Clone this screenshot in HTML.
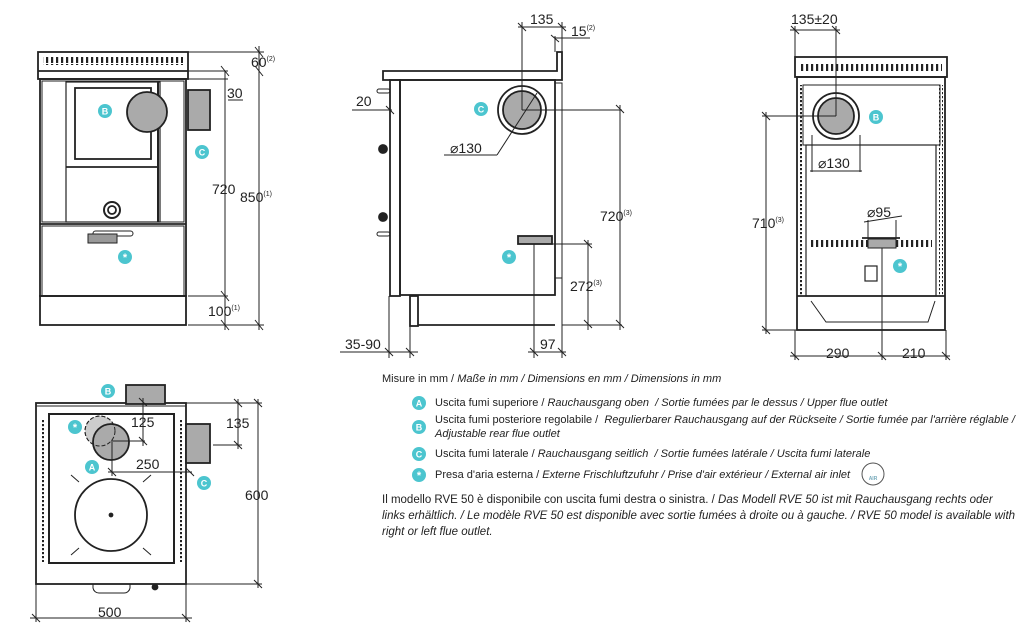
<!DOCTYPE html>
<html><head><meta charset="utf-8"><style>
body{margin:0;background:#fff;width:1033px;height:642px;overflow:hidden;font-family:"Liberation Sans",sans-serif}
svg{position:absolute;left:0;top:0}
.t{position:absolute;font-size:11px;color:#222;white-space:nowrap;line-height:14px}
i{font-style:italic}
</style></head><body>
<svg width="1033" height="642" viewBox="0 0 1033 642" font-family="Liberation Sans" fill="none" stroke="#222">
<defs>
<pattern id="v" width="5" height="8" patternUnits="userSpaceOnUse"><rect x="1" y="0" width="2.2" height="7" fill="#222" stroke="none"/></pattern>
<pattern id="vv" width="6" height="4" patternUnits="userSpaceOnUse"><rect x="0" y="0" width="4" height="2.2" fill="#222" stroke="none"/></pattern>
</defs>
<!-- FRONT VIEW -->
<g stroke-width="1.8">
<rect x="38" y="52" width="150" height="27"/>
<rect x="43" y="57" width="140" height="8" fill="url(#v)" stroke="none"/>
<line x1="38" y1="71" x2="188" y2="71"/>
<rect x="40" y="79" width="146" height="217"/>
<rect x="42" y="81" width="142" height="141" stroke-width="1"/>
<rect x="66" y="82" width="94" height="140" stroke-width="1.2"/>
<rect x="75" y="88" width="76" height="71" stroke-width="1.8"/>
<line x1="66" y1="167" x2="158" y2="167"/>
<line x1="158" y1="82" x2="158" y2="222" stroke-width="2"/>
<circle cx="147" cy="112" r="20" fill="#aaa"/>
<circle cx="112" cy="210" r="8" stroke-width="2"/><circle cx="112" cy="210" r="4"/>
<line x1="40" y1="224" x2="186" y2="224"/>
<rect x="42" y="226" width="142" height="70" stroke-width="1"/>
<rect x="93" y="231" width="40" height="5" rx="2.5" stroke-width="1"/>
<rect x="88" y="234" width="29" height="9" fill="#999" stroke-width="1"/>
<rect x="40" y="296" width="146" height="29"/>
<rect x="188" y="90" width="22" height="40" fill="#aaa"/>
</g>
<g stroke-width="1">
<line x1="188" y1="52" x2="264" y2="52"/><line x1="188" y1="71" x2="228" y2="71"/>
<line x1="188" y1="79" x2="228" y2="79"/><line x1="188" y1="296" x2="228" y2="296"/>
<line x1="188" y1="325" x2="264" y2="325"/>
<line x1="225" y1="71" x2="225" y2="330"/><line x1="259" y1="46" x2="259" y2="330"/>
<line x1="228" y1="100" x2="243" y2="100"/>
<path d="M221 66l8 10M255 47l8 10M255 66l8 10M221 291l8 10M221 320l8 10M255 320l8 10"/>
</g>
<!-- SIDE VIEW -->
<g stroke-width="1.8">
<path d="M383 80V71H557V52H562V80Z"/>
<rect x="400" y="80" width="155" height="215"/>
<rect x="390" y="80" width="10" height="216"/>
<rect x="555" y="83" width="7" height="195" stroke-width="1"/>
<circle cx="522" cy="110" r="24"/><circle cx="522" cy="110" r="19" fill="#aaa"/>
<rect x="518" y="236" width="34" height="8" fill="#aaa"/>
<rect x="410" y="296" width="8" height="30"/>
<line x1="418" y1="325" x2="555" y2="325"/>
<rect x="377" y="89" width="13" height="4" rx="2" stroke-width="1"/>
<rect x="377" y="232" width="13" height="4" rx="2" stroke-width="1"/>
<circle cx="383" cy="149" r="4" fill="#222"/><circle cx="383" cy="217" r="4" fill="#222"/>
</g>
<g stroke-width="1">
<line x1="522" y1="22" x2="522" y2="110"/><line x1="522" y1="110" x2="622" y2="110"/>
<line x1="518" y1="27" x2="566" y2="27"/><line x1="555" y1="38" x2="590" y2="38"/>
<line x1="562" y1="22" x2="562" y2="52"/><line x1="555" y1="36" x2="555" y2="52"/>
<line x1="444" y1="155" x2="497" y2="155"/><line x1="497" y1="155" x2="537" y2="93"/>
<line x1="352" y1="110" x2="392" y2="110"/>
<line x1="552" y1="244" x2="592" y2="244"/><line x1="562" y1="325" x2="622" y2="325"/>
<line x1="620" y1="105" x2="620" y2="330"/><line x1="588" y1="240" x2="588" y2="330"/>
<line x1="389" y1="296" x2="389" y2="358"/><line x1="410" y1="326" x2="410" y2="358"/>
<line x1="534" y1="244" x2="534" y2="358"/><line x1="562" y1="278" x2="562" y2="358"/>
<line x1="340" y1="352" x2="418" y2="352"/><line x1="528" y1="352" x2="566" y2="352"/>
<path d="M518 23l8 8M558 23l8 8M551 35l8 7M386 106l8 8M616 105l8 8M616 320l8 8M584 240l8 8M584 320l8 8M385 348l8 8M406 348l8 8M530 348l8 8M558 348l8 8"/>
</g>
<!-- REAR VIEW -->
<g stroke-width="1.8">
<rect x="795" y="57" width="152" height="20"/>
<rect x="800" y="63" width="142" height="8" fill="url(#v)" stroke="none"/>
<rect x="797" y="77" width="148" height="253"/>
<rect x="803" y="85" width="137" height="60" stroke-width="1"/>
<rect x="806" y="145" width="130" height="151" stroke-width="1.2"/>
<rect x="800" y="85" width="4" height="210" fill="url(#vv)" stroke="none"/>
<rect x="939" y="85" width="4" height="210" fill="url(#vv)" stroke="none"/>
<circle cx="836" cy="116" r="23"/><circle cx="836" cy="116" r="18" fill="#aaa"/>
<rect x="810" y="240" width="122" height="8" fill="url(#v)" stroke="none"/>
<rect x="868" y="239" width="28" height="9" fill="#aaa" stroke-width="1"/>
<line x1="862" y1="238" x2="900" y2="238"/>
<rect x="865" y="266" width="12" height="15" stroke-width="1.2"/>
<line x1="797" y1="296" x2="945" y2="296"/>
<path d="M811 301L826 322H928L935 301" stroke-width="1"/>
</g>
<g stroke-width="1">
<line x1="795" y1="26" x2="795" y2="57"/><line x1="836" y1="26" x2="836" y2="116"/>
<line x1="790" y1="30" x2="840" y2="30"/><line x1="762" y1="116" x2="836" y2="116"/>
<line x1="766" y1="112" x2="766" y2="334"/><line x1="762" y1="330" x2="797" y2="330"/>
<line x1="812" y1="135" x2="812" y2="172"/><line x1="860" y1="135" x2="860" y2="172"/>
<line x1="810" y1="171" x2="862" y2="171"/>
<line x1="864" y1="222" x2="902" y2="216"/><line x1="868" y1="220" x2="868" y2="239"/><line x1="896" y1="220" x2="896" y2="239"/>
<line x1="882" y1="248" x2="882" y2="360"/>
<line x1="795" y1="330" x2="795" y2="360"/><line x1="946" y1="330" x2="946" y2="360"/>
<line x1="790" y1="356" x2="950" y2="356"/>
<path d="M791 26l8 8M832 26l8 8M762 112l8 8M762 326l8 8M791 352l8 8M878 352l8 8M942 352l8 8"/>
</g>
<!-- TOP VIEW -->
<g stroke-width="1.8">
<rect x="36" y="403" width="150" height="181"/>
<line x1="36" y1="406" x2="186" y2="406" stroke-width="1"/>
<rect x="49" y="414" width="125" height="149" stroke-width="2"/>
<rect x="40" y="420" width="4" height="142" fill="url(#vv)" stroke="none"/>
<rect x="178" y="420" width="4" height="142" fill="url(#vv)" stroke="none"/>
<rect x="126" y="385" width="39" height="19" fill="#aaa"/>
<rect x="186" y="424" width="24" height="39" fill="#aaa"/>
<circle cx="100" cy="431" r="15" fill="#ccc" stroke-dasharray="4 2" stroke-width="1"/>
<circle cx="111" cy="442" r="18" fill="#aaa"/>
<circle cx="100" cy="431" r="15" stroke-dasharray="4 2" stroke-width="1"/>
<circle cx="111" cy="515" r="36"/>
<circle cx="111" cy="515" r="1.5" fill="#222"/>
<path d="M79 482l-8-7M143 482l8-7M79 548l-8 7M143 548l8 7" stroke-width="1"/>
<path d="M93 584v4a6 6 0 0 0 6 5h25a6 6 0 0 0 6-5v-4" stroke-width="1"/>
<circle cx="155" cy="587" r="2.5" fill="#222"/>
</g>
<g stroke-width="1">
<line x1="143" y1="398" x2="143" y2="446"/>
<line x1="111" y1="441" x2="145" y2="441"/>
<line x1="112" y1="442" x2="112" y2="476"/>
<line x1="108" y1="472" x2="192" y2="472"/>
<line x1="186" y1="403" x2="262" y2="403"/><line x1="213" y1="445" x2="242" y2="445"/>
<line x1="238" y1="399" x2="238" y2="449"/><line x1="186" y1="584" x2="262" y2="584"/>
<line x1="258" y1="399" x2="258" y2="588"/>
<line x1="36" y1="584" x2="36" y2="622"/><line x1="186" y1="584" x2="186" y2="622"/>
<line x1="30" y1="618" x2="192" y2="618"/>
<path d="M139 398l8 8M139 437l8 8M108 468l8 8M186 468l8 8M234 399l8 8M234 441l8 8M254 399l8 8M254 580l8 8M32 614l8 8M182 614l8 8"/>
</g>
<!-- dimension text -->
<g fill="#222" stroke="none" font-size="14">
<text x="251" y="67">60<tspan font-size="7" dy="-6">(2)</tspan></text>
<text x="227" y="98">30</text>
<text x="212" y="194">720</text>
<text x="240" y="202">850<tspan font-size="7" dy="-6">(1)</tspan></text>
<text x="208" y="316">100<tspan font-size="7" dy="-6">(1)</tspan></text>
<text x="530" y="24">135</text>
<text x="571" y="36">15<tspan font-size="7" dy="-6">(2)</tspan></text>
<text x="356" y="106">20</text>
<text x="450" y="153">⌀130</text>
<text x="600" y="221">720<tspan font-size="7" dy="-6">(3)</tspan></text>
<text x="570" y="291">272<tspan font-size="7" dy="-6">(3)</tspan></text>
<text x="345" y="349">35-90</text>
<text x="540" y="349">97</text>
<text x="791" y="24">135±20</text>
<text x="818" y="168">⌀130</text>
<text x="867" y="217">⌀95</text>
<text x="752" y="228">710<tspan font-size="7" dy="-6">(3)</tspan></text>
<text x="826" y="358">290</text>
<text x="902" y="358">210</text>
<text x="131" y="427">125</text>
<text x="136" y="469">250</text>
<text x="226" y="428">135</text>
<text x="245" y="500">600</text>
<text x="98" y="617">500</text>
</g>
<!-- badges -->
<g stroke="none" font-size="9" font-weight="bold" text-anchor="middle">
<circle cx="105" cy="111" r="7" fill="#4cc5cf"/><text x="105" y="114.5" fill="#fff">B</text>
<circle cx="202" cy="152" r="7" fill="#4cc5cf"/><text x="202" y="155.5" fill="#fff">C</text>
<circle cx="125" cy="257" r="7" fill="#4cc5cf"/><text x="125" y="261" fill="#fff" font-size="11">*</text>
<circle cx="481" cy="109" r="7" fill="#4cc5cf"/><text x="481" y="112.5" fill="#fff">C</text>
<circle cx="509" cy="257" r="7" fill="#4cc5cf"/><text x="509" y="261" fill="#fff" font-size="11">*</text>
<circle cx="876" cy="117" r="7" fill="#4cc5cf"/><text x="876" y="120.5" fill="#fff">B</text>
<circle cx="900" cy="266" r="7" fill="#4cc5cf"/><text x="900" y="270" fill="#fff" font-size="11">*</text>
<circle cx="108" cy="391" r="7" fill="#4cc5cf"/><text x="108" y="394.5" fill="#fff">B</text>
<circle cx="75" cy="427" r="7" fill="#4cc5cf"/><text x="75" y="431" fill="#fff" font-size="11">*</text>
<circle cx="92" cy="467" r="7" fill="#4cc5cf"/><text x="92" y="470.5" fill="#fff">A</text>
<circle cx="204" cy="483" r="7" fill="#4cc5cf"/><text x="204" y="486.5" fill="#fff">C</text>
<circle cx="419" cy="403" r="7" fill="#4cc5cf"/><text x="419" y="406.5" fill="#fff">A</text>
<circle cx="419" cy="427" r="7" fill="#4cc5cf"/><text x="419" y="430.5" fill="#fff">B</text>
<circle cx="419" cy="454" r="7" fill="#4cc5cf"/><text x="419" y="457.5" fill="#fff">C</text>
<circle cx="419" cy="475" r="7" fill="#4cc5cf"/><text x="419" y="479" fill="#fff" font-size="11">*</text>
<circle cx="873" cy="474" r="11" fill="#fff" stroke="#555" stroke-width="1"/><text x="873" y="480" fill="#7ab" font-size="5">AIR</text>
</g>
</svg>
<div class="t" style="left:382px;top:372px">Misure in mm / <i>Maße in mm / Dimensions en mm / Dimensions in mm</i></div>
<div class="t" style="left:435px;top:396px">Uscita fumi superiore / <i>Rauchausgang oben &nbsp;/ Sortie fumées par le dessus / Upper flue outlet</i></div>
<div class="t" style="left:435px;top:413px">Uscita fumi posteriore regolabile / &nbsp;<i>Regulierbarer Rauchausgang auf der Rückseite / Sortie fumée par l'arrière réglable /</i></div>
<div class="t" style="left:435px;top:427px"><i>Adjustable rear flue outlet</i></div>
<div class="t" style="left:435px;top:447px">Uscita fumi laterale / <i>Rauchausgang seitlich &nbsp;/ Sortie fumées latérale / Uscita fumi laterale</i></div>
<div class="t" style="left:435px;top:468px">Presa d'aria esterna / <i>Externe Frischluftzufuhr / Prise d'air extérieur / External air inlet</i></div>
<div class="t" style="left:382px;top:493px;font-size:11.5px">Il modello RVE 50 è disponibile con uscita fumi destra o sinistra. / <i>Das Modell RVE 50 ist mit Rauchausgang rechts oder</i></div>
<div class="t" style="left:382px;top:509px;font-size:11.5px"><i>links erhältlich. / Le modèle RVE 50 est disponible avec sortie fumées à droite ou à gauche. / RVE 50 model is available with</i></div>
<div class="t" style="left:382px;top:525px;font-size:11.5px"><i>right or left flue outlet.</i></div>
</body></html>
